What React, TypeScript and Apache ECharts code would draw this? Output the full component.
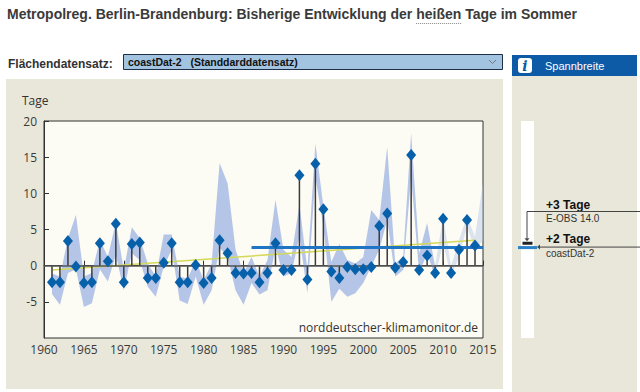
import React, { useEffect, useRef } from "react";
import * as echarts from "echarts";

// ---- data ----
const years = [
  1961, 1962, 1963, 1964, 1965, 1966, 1967, 1968, 1969, 1970,
  1971, 1972, 1973, 1974, 1975, 1976, 1977, 1978, 1979, 1980,
  1981, 1982, 1983, 1984, 1985, 1986, 1987, 1988, 1989, 1990,
  1991, 1992, 1993, 1994, 1995, 1996, 1997, 1998, 1999, 2000,
  2001, 2002, 2003, 2004, 2005, 2006, 2007, 2008, 2009, 2010,
  2011, 2012, 2013, 2014,
];
// deviation of hot days (coastDat-2)
const values = [
  -2.3, -2.3, 3.4, -0.1, -2.4, -2.3, 3.1, 0.6, 5.8, -2.3,
  3.0, 3.2, -1.7, -1.7, 0.4, 3.1, -2.3, -2.3, 0.1, -2.4,
  -1.7, 3.5, 1.7, -1.0, -1.1, -1.0, -2.3, -1.0, 3.1, -0.6,
  -0.6, 12.5, -1.9, 14.1, 7.8, -0.8, -1.7, -0.2, -0.5, -0.5,
  -0.2, 5.5, 7.2, -0.3, 0.5, 15.3, -0.6, 1.4, -1.0, 6.5,
  -1.0, 2.2, 6.3, 2.8,
];
// range band of other datasets
const bandYears = [
  1961, 1962, 1963, 1964, 1965, 1966, 1967, 1968, 1969, 1970,
  1971, 1972, 1973, 1974, 1975, 1976, 1977, 1978, 1979, 1980,
  1981, 1982, 1983, 1984, 1985, 1986, 1987, 1988, 1989, 1990,
  1991, 1992, 1993, 1994, 1995, 1996, 1997, 1998, 1999, 2000,
  2001, 2002, 2003, 2004, 2005, 2006, 2007, 2008, 2009, 2010,
  2011, 2012, 2013, 2014, 2015,
];
const bandHigh = [
  -1.1, -1.5, 3.8, 7.0, -1.5, -1.0, 3.6, 1.2, 6.0, -0.6,
  5.3, 3.8, 0.3, -1.5, 4.3, 4.3, -1.5, -1.8, 0.8, -2.0,
  0.3, 14.2, 11.4, 2.2, -1.0, 1.2, -1.5, 0.8, 9.1, 2.2,
  1.2, 8.5, -0.6, 16.9, 8.2, 0.5, 3.0, 0.8, 0.3, 1.2,
  7.7, 6.3, 16.4, 0.3, 1.2, 18.3, 1.7, 5.9, -0.1, 6.8,
  -0.1, 3.6, 6.8, 4.0, 11.5,
];
const bandLow = [
  -3.9, -5.4, -1.0, -0.5, -5.7, -5.2, -0.5, -2.2, 1.5, -3.4,
  1.7, 0.8, -2.9, -4.3, -0.1, 2.2, -4.8, -5.3, -1.5, -5.4,
  -3.4, 2.5, 1.2, -3.4, -5.4, -2.4, -4.0, -3.4, 2.6, -1.5,
  -1.0, 4.0, -3.8, 12.3, 5.4, -5.0, -3.2, -4.3, -3.8, -2.4,
  -0.1, 2.2, 6.3, -1.5, -0.6, 12.3, -1.0, 1.7, -1.5, 3.1,
  -1.5, 1.2, 5.4, 2.2, 3.5,
];
const bandSolidUntil = 2009; // after this the band is drawn faint

const trendYears = [1961, 2014];
const trendValues = [-0.6, 3.5];
const meanYears = [1986, 2015];
const meanValues = [2.5, 2.5];

const xMin = 1960, xMax = 2015, xStep = 5;
const yMin = -10, yMax = 20, yStep = 5;

const spanLabels = ["+3 Tage", "+2 Tage"];
const spanNames = ["E-OBS 14.0", "coastDat-2"];
const spanValues = [3.1, 2.5];

const title1 = "Metropolreg. Berlin-Brandenburg: Bisherige Entwicklung der ";
const titleWord = "heißen";
const title2 = " Tage im Sommer";

const FONT_PAGE = '"Liberation Sans", Arial, sans-serif';
const FONT_CHART = '"Open Sans", "DejaVu Sans", sans-serif';

function measure(text: string, font: string): number {
  const c = document.createElement("canvas").getContext("2d");
  if (!c) return text.length * 7;
  c.font = font;
  return c.measureText(text).width;
}

export default function App() {
  const ref = useRef<HTMLDivElement>(null);
  useEffect(() => {
    if (!ref.current) return;
    const chart = echarts.init(ref.current, undefined, { renderer: "svg" });

    const titleFont = "bold 14px " + FONT_PAGE;
    const w1 = measure(title1, titleFont);
    const ww = measure(titleWord, titleFont);
    const tx = 7;

    const splitIdx = bandYears.indexOf(bandSolidUntil);

    const baseGraphic: any[] = [
      // panels
      { type: "rect", shape: { x: 6, y: 79, width: 497, height: 310 }, style: { fill: "#e9e7d9" }, z: -10 },
      { type: "rect", shape: { x: 512, y: 76, width: 125, height: 316 }, style: { fill: "#e9e7d9" }, z: -10 },
      { type: "rect", shape: { x: 512, y: 55, width: 125, height: 21 }, style: { fill: "#0d5aa7" } },
      { type: "rect", shape: { x: 518, y: 58, width: 14, height: 15, r: 3 }, style: { fill: "#ffffff" } },
      {
        type: "text", x: 525, y: 66,
        style: { text: "i", fill: "#0d5aa7", font: 'italic bold 14px "DejaVu Serif", serif', align: "center", verticalAlign: "middle" },
      },
      {
        type: "text", x: 545, y: 66,
        style: { text: "Spannbreite", fill: "#ffffff", font: "11px " + FONT_PAGE, verticalAlign: "middle" },
      },
      // title
      {
        type: "text", x: tx, y: 14,
        style: { text: title1 + titleWord + title2, fill: "#3a3a3a", font: titleFont, verticalAlign: "middle" },
      },
      {
        type: "line", shape: { x1: tx + w1, y1: 23.5, x2: tx + w1 + ww, y2: 23.5 },
        style: { stroke: "#888", lineWidth: 1, lineDash: [1, 1] },
      },
      // dataset selector
      {
        type: "text", x: 8, y: 64,
        style: { text: "Flächendatensatz:", fill: "#333", font: "bold 12px " + FONT_PAGE, verticalAlign: "middle" },
      },
      { type: "rect", shape: { x: 123.5, y: 54.5, width: 379, height: 15 }, style: { fill: "#a3c4e0", stroke: "#1e2e48", lineWidth: 1 } },
      {
        type: "text", x: 128, y: 62,
        style: { text: "coastDat-2   (Standdarddatensatz)", fill: "#111", font: "bold 10.5px " + FONT_PAGE, verticalAlign: "middle" },
      },
      { type: "polyline", shape: { points: [[489, 60], [492.5, 63.5], [496, 60]] }, style: { stroke: "#777", lineWidth: 1, fill: "none" } },
      // chart texts
      {
        type: "text", x: 22, y: 100,
        style: { text: "Tage", fill: "#333", font: "12px " + FONT_CHART, verticalAlign: "middle" },
      },
      {
        type: "text", x: 478, y: 327,
        style: { text: "norddeutscher-klimamonitor.de", fill: "#333", font: "12px " + FONT_CHART, align: "right", verticalAlign: "middle" },
        z: 20,
      },
      // span labels
      {
        type: "text", x: 546, y: 205,
        style: { text: spanLabels[0], fill: "#111", font: "bold 12px " + FONT_PAGE, verticalAlign: "middle" },
      },
      {
        type: "text", x: 546, y: 218,
        style: { text: spanNames[0], fill: "#333", font: "10px " + FONT_PAGE, verticalAlign: "middle" },
      },
      {
        type: "text", x: 546, y: 239,
        style: { text: spanLabels[1], fill: "#111", font: "bold 12px " + FONT_PAGE, verticalAlign: "middle" },
      },
      {
        type: "text", x: 546, y: 253,
        style: { text: spanNames[1], fill: "#333", font: "10px " + FONT_PAGE, verticalAlign: "middle" },
      },
    ];

    const option: any = {
      animation: false,
      backgroundColor: "#ffffff",
      grid: [
        {
          left: 44, top: 121, width: 439, height: 217,
          show: true, backgroundColor: "#fcfbf4", borderColor: "#333", borderWidth: 1,
        },
        {
          left: 521, top: 121, width: 13, height: 217,
          show: true, backgroundColor: "#ffffff", borderWidth: 0,
        },
      ],
      xAxis: [
        {
          type: "value", gridIndex: 0, min: xMin, max: xMax, interval: xStep,
          axisLine: { lineStyle: { color: "#333" } },
          axisTick: { inside: true, length: 5, lineStyle: { color: "#333" } },
          axisLabel: {
            color: "#3a3a3a", fontSize: 12, fontFamily: FONT_CHART, margin: 5,
            formatter: (v: number) => String(v),
          },
          splitLine: { show: false },
        },
        { type: "value", gridIndex: 1, min: 0, max: 1, show: false },
      ],
      yAxis: [
        {
          type: "value", gridIndex: 0, min: yMin, max: yMax, interval: yStep,
          axisLine: { show: true, lineStyle: { color: "#333" } },
          axisTick: { show: true, inside: true, length: 5, lineStyle: { color: "#333" } },
          axisLabel: {
            color: "#3a3a3a", fontSize: 12, fontFamily: FONT_CHART, margin: 7,
            showMinLabel: false,
            formatter: (v: number) => String(v),
          },
          splitLine: { show: false },
        },
        { type: "value", gridIndex: 1, min: yMin, max: yMax, show: false },
      ],
      series: [
        {
          type: "custom",
          xAxisIndex: 0, yAxisIndex: 0,
          clip: true,
          silent: true,
          data: [[bandYears[0], 0], [bandSolidUntil, 0]],
          renderItem: (params: any, api: any) => {
            const seg = params.dataIndex;
            const from = seg === 0 ? 0 : splitIdx;
            const to = seg === 0 ? splitIdx : bandYears.length - 1;
            const pts: number[][] = [];
            for (let i = from; i <= to; i++) pts.push(api.coord([bandYears[i], bandHigh[i]]));
            for (let i = to; i >= from; i--) pts.push(api.coord([bandYears[i], bandLow[i]]));
            return {
              type: "polygon",
              shape: { points: pts },
              style: { fill: "#b4c5e7", opacity: seg === 0 ? 1 : 0.45 },
            };
          },
          z: 1,
        },
        {
          type: "line",
          xAxisIndex: 0, yAxisIndex: 0,
          data: trendYears.map((y, i) => [y, trendValues[i]]),
          symbol: "none",
          lineStyle: { color: "#d4d95a", width: 1.5 },
          z: 2,
        },
        {
          type: "bar",
          xAxisIndex: 0, yAxisIndex: 0,
          data: years.map((y, i) => [y, values[i]]),
          barWidth: 1.5,
          itemStyle: { color: "#3a3a3a" },
          markLine: {
            silent: true,
            symbol: ["none", "none"],
            label: { show: false },
            lineStyle: { color: "#555", width: 1.5, type: "solid" },
            data: [{ yAxis: 0 }],
          },
          z: 3,
        },
        {
          type: "line",
          xAxisIndex: 0, yAxisIndex: 0,
          data: meanYears.map((y, i) => [y, meanValues[i]]),
          symbol: "none",
          lineStyle: { color: "#1f74c4", width: 3 },
          z: 4,
        },
        {
          type: "scatter",
          xAxisIndex: 0, yAxisIndex: 0,
          data: years.map((y, i) => [y, values[i]]),
          symbol: "diamond",
          symbolSize: [10, 12],
          itemStyle: { color: "#0660aa", opacity: 1 },
          z: 5,
        },
        {
          type: "scatter",
          xAxisIndex: 1, yAxisIndex: 1,
          data: [[0.5, spanValues[1]]],
          symbol: "rect",
          symbolSize: [19, 3],
          itemStyle: { color: "#2a82c9", opacity: 1 },
          z: 5,
        },
        {
          type: "scatter",
          xAxisIndex: 1, yAxisIndex: 1,
          data: [[0.5, spanValues[0]]],
          symbol: "rect",
          symbolSize: [10, 3],
          itemStyle: { color: "#222", opacity: 1 },
          z: 6,
        },
      ],
      graphic: baseGraphic,
    };

    chart.setOption(option);

    const pE = chart.convertToPixel({ gridIndex: 1 } as any, [0.5, spanValues[0]]) as number[];
    const pC = chart.convertToPixel({ gridIndex: 1 } as any, [0.5, spanValues[1]]) as number[];
    const ax = pE[0] - 0.5;
    const arrowGraphic: any[] = [
      {
        type: "polyline",
        shape: { points: [[640, 211.5], [ax, 211.5], [ax, pE[1] - 5]] },
        style: { stroke: "#444", lineWidth: 1, fill: "none" },
      },
      {
        type: "polygon",
        shape: { points: [[ax - 2.5, pE[1] - 5], [ax + 2.5, pE[1] - 5], [ax, pE[1] - 2]] },
        style: { fill: "#444" },
      },
      {
        type: "line",
        shape: { x1: 640, y1: pC[1] - 0.5, x2: 540, y2: pC[1] - 0.5 },
        style: { stroke: "#444", lineWidth: 1 },
      },
      {
        type: "polygon",
        shape: { points: [[540, pC[1] - 3], [540, pC[1] + 2], [537, pC[1] - 0.5]] },
        style: { fill: "#444" },
      },
    ];
    chart.setOption({ graphic: baseGraphic.concat(arrowGraphic) });

    return () => chart.dispose();
  }, []);

  return (
    <div
      ref={ref}
      style={{ position: "fixed", left: 0, top: 0, width: 640, height: 392 }}
    />
  );
}
